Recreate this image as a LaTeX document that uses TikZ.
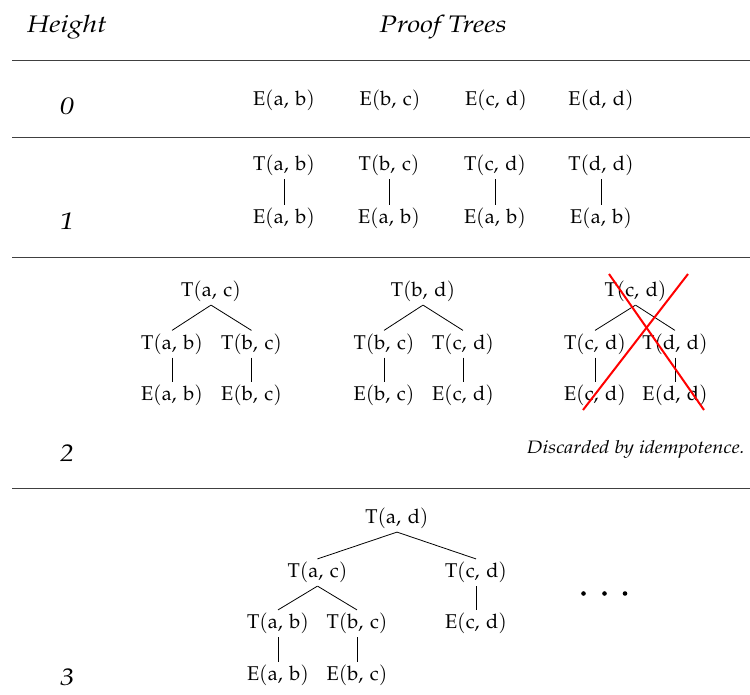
\documentclass[tikz,border=0pt]{standalone}
\usepackage[T1]{fontenc}
\usepackage{mathpazo}
\tikzset{
  lbl/.style={font=\fontsize{20}{24}\selectfont, inner sep=3bp, yshift=-2.5bp},
  head/.style={font=\fontsize{24}{28}\selectfont\itshape, anchor=base, inner sep=0pt},
  note/.style={font=\fontsize{18}{22}\selectfont\itshape, anchor=base east, inner sep=0pt},
  edge/.style={line width=0.8bp},
  rule/.style={line width=1bp, black!75},
  cross/.style={red, line width=2bp},
  dot/.style={circle, fill=black, inner sep=0pt, minimum size=4.6bp},
}
\newcommand{\atom}[3]{$\mathrm{#1}(\mathrm{#2},\,\mathrm{#3})$}
\newcommand{\wide}[2][1.2]{\scalebox{#1}[1]{#2}}
\begin{document}
\begin{tikzpicture}[x=1bp,y=-1bp]
\useasboundingbox (0,0) rectangle (750,695);

% column headers
\node[head] (hheight) at (67,33) {\wide{Height}};
\node[head] (htrees) at (443,33) {\wide{Proof Trees}};

% horizontal rules
\coordinate (l0) at (12,61);  \coordinate (r0) at (750,61);
\coordinate (l1) at (12,137); \coordinate (r1) at (750,137);
\coordinate (l2) at (12,257); \coordinate (r2) at (750,257);
\coordinate (l3) at (12,488); \coordinate (r3) at (750,488);
\draw[rule] (l0) -- (r0);
\draw[rule] (l1) -- (r1);
\draw[rule] (l2) -- (r2);
\draw[rule] (l3) -- (r3);

% heights
\node[head] (h0) at (67,114.5) {\wide{0}};
\node[head] (h1) at (67,229) {\wide{1}};
\node[head] (h2) at (67,461.5) {\wide{2}};
\node[head] (h3) at (67,685) {\wide{3}};

% height 0
\node[lbl] (z1) at (284,98) {\atom Eab};
\node[lbl] (z2) at (390,98) {\atom Ebc};
\node[lbl] (z3) at (496,98) {\atom Ecd};
\node[lbl] (z4) at (601,98) {\atom Edd};

% height 1
\node[lbl] (o1) at (284,163) {\atom Tab};
\node[lbl] (o2) at (389,163) {\atom Tbc};
\node[lbl] (o3) at (495,163) {\atom Tcd};
\node[lbl] (o4) at (601,163) {\atom Tdd};
\node[lbl] (e1) at (284,216) {\atom Eab};
\node[lbl] (e2) at (389,216) {\atom Eab};
\node[lbl] (e3) at (495,216) {\atom Eab};
\node[lbl] (e4) at (601,216) {\atom Eab};
\draw[edge] (o1) -- (e1);
\draw[edge] (o2) -- (e2);
\draw[edge] (o3) -- (e3);
\draw[edge] (o4) -- (e4);

% height 2, first tree
\node[lbl] (a1) at (211,289) {\atom Tac};
\node[lbl] (a2) at (172,341.5) {\atom Tab};
\node[lbl] (a3) at (251.5,341.5) {\atom Tbc};
\node[lbl] (a4) at (172,393) {\atom Eab};
\node[lbl] (a5) at (251.5,393) {\atom Ebc};
\draw[edge] (a1.south) -- (a2.north);
\draw[edge] (a1.south) -- (a3.north);
\draw[edge] (a2) -- (a4);
\draw[edge] (a3) -- (a5);

% height 2, second tree
\node[lbl] (b1) at (423,289) {\atom Tbd};
\node[lbl] (b2) at (384,341.5) {\atom Tbc};
\node[lbl] (b3) at (463,341.5) {\atom Tcd};
\node[lbl] (b4) at (384,393) {\atom Ebc};
\node[lbl] (b5) at (463,393) {\atom Ecd};
\draw[edge] (b1.south) -- (b2.north);
\draw[edge] (b1.south) -- (b3.north);
\draw[edge] (b2) -- (b4);
\draw[edge] (b3) -- (b5);

% height 2, third tree (crossed out)
\node[lbl] (c1) at (635.5,289) {\atom Tcd};
\node[lbl] (c2) at (595,341.5) {\atom Tcd};
\node[lbl] (c3) at (675,341.5) {\atom Tdd};
\node[lbl] (c4) at (595,393) {\atom Ecd};
\node[lbl] (c5) at (675,393) {\atom Edd};
\draw[edge] (c1.south) -- (c2.north);
\draw[edge] (c1.south) -- (c3.north);
\draw[edge] (c2) -- (c4);
\draw[edge] (c3) -- (c5);
\coordinate (x1) at (609,274); \coordinate (x2) at (704,410);
\coordinate (x3) at (688,274); \coordinate (x4) at (583,410);
\draw[cross] (x1) -- (x2);
\draw[cross] (x3) -- (x4);
\node[note] (disc) at (745,453) {\wide[1.13]{Discarded by idempotence.}};

% height 3
\node[lbl] (d1) at (397,516) {\atom Tad};
\node[lbl] (d2) at (317.5,570) {\atom Tac};
\node[lbl] (d3) at (476,570) {\atom Tcd};
\node[lbl] (d4) at (278,621) {\atom Tab};
\node[lbl] (d5) at (357,621) {\atom Tbc};
\node[lbl] (d6) at (476,621) {\atom Ecd};
\node[lbl] (d7) at (278,673) {\atom Eab};
\node[lbl] (d8) at (357,673) {\atom Ebc};
\draw[edge] (d1.south) -- (d2.north);
\draw[edge] (d1.south) -- (d3.north);
\draw[edge] (d2.south) -- (d4.north);
\draw[edge] (d2.south) -- (d5.north);
\draw[edge] (d3) -- (d6);
\draw[edge] (d4) -- (d7);
\draw[edge] (d5) -- (d8);

% more trees follow
\node[dot] (m1) at (583.5,593.5) {};
\node[dot] (m2) at (604.5,593.5) {};
\node[dot] (m3) at (625,593.5) {};
\end{tikzpicture}
\end{document}
